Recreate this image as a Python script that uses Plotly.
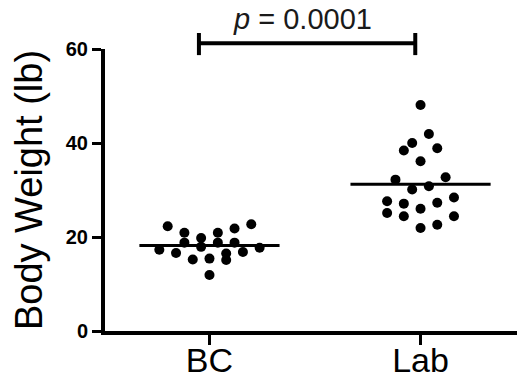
import plotly.graph_objects as go
import numpy as np

categories = ["BC", "Lab"]
bc_weights = [22.3, 17.3, 16.6, 20.9, 18.8, 15.2, 19.8, 17.9, 15.4, 11.9,
              20.9, 18.8, 16.5, 15.1, 21.8, 18.8, 16.8, 22.7, 17.7]
bc_cols = [-5, -6, -4, -3, -3, -2, -1, -1, 0, 0, 1, 1, 2, 2, 3, 3, 4, 5, 6]
lab_weights = [48.1, 41.9, 40.0, 38.4, 38.9, 36.1, 32.2, 32.7, 30.1, 30.8,
               27.6, 27.1, 27.3, 28.4, 26.0, 25.1, 24.4, 24.4, 22.6, 21.9]
lab_cols = [0, 1, -1, -2, 2, 0, -3, 3, -1, 1, -4, -2, 2, 4, 0, -4, -2, 4, 2, 0]
y_ticks = [0, 20, 40, 60]
p_label = "<i>p</i> = 0.0001"
bracket_x = [-0.05, 0.975]
bracket_y = 61.2
bracket_cap = [58.7, 63.4]

step = 0.0396
half = 0.332
XR = [-0.495, 1.457]
YR = [0, 60]

font = "Liberation Sans, Arial, Helvetica, sans-serif"

fig = go.Figure()
groups = [(bc_weights, bc_cols), (lab_weights, lab_cols)]
for i, (w, c) in enumerate(groups):
    xs = [i + k * step for k in c]
    fig.add_trace(go.Scatter(x=xs, y=w, mode="markers",
                             marker=dict(size=10, color="black"),
                             showlegend=False, cliponaxis=False))
    m = float(np.mean(w))
    fig.add_trace(go.Scatter(x=[i - half, i + half], y=[m, m], mode="lines",
                             line=dict(color="black", width=3),
                             showlegend=False))

def px(v):
    return (v - XR[0]) / (XR[1] - XR[0])

def py(v):
    return (v - YR[0]) / (YR[1] - YR[0])

shapes = [
    dict(type="line", xref="paper", yref="paper",
         x0=px(bracket_x[0]), x1=px(bracket_x[1]),
         y0=py(bracket_y), y1=py(bracket_y),
         line=dict(color="black", width=4)),
]
for bx in bracket_x:
    shapes.append(dict(type="line", xref="paper", yref="paper",
                       x0=px(bx), x1=px(bx),
                       y0=py(bracket_cap[0]), y1=py(bracket_cap[1]),
                       line=dict(color="black", width=4)))

fig.update_layout(
    width=517, height=379,
    margin=dict(l=105, r=0, t=49, b=48),
    paper_bgcolor="white", plot_bgcolor="white",
    font=dict(family=font, color="black"),
    shapes=shapes,
    annotations=[dict(
        xref="paper", yref="paper",
        x=px(sum(bracket_x) / 2) - 0.01, y=py(bracket_cap[1]) - 0.014,
        xanchor="center", yanchor="bottom", showarrow=False,
        text=p_label,
        font=dict(size=29, color="#1a1a1a", family=font))],
    xaxis=dict(range=XR, tickmode="array", tickvals=[0, 1], ticktext=categories,
               showline=True, linecolor="black", linewidth=4,
               ticks="outside", ticklen=10, tickwidth=3, tickcolor="black",
               tickfont=dict(size=34, family=font), automargin=False,
               ticklabelstandoff=-14,
               showgrid=False, zeroline=False, fixedrange=True),
    yaxis=dict(range=YR, tickmode="array", tickvals=y_ticks,
               showline=True, linecolor="black", linewidth=4,
               ticks="outside", ticklen=9, tickwidth=3, tickcolor="black",
               tickfont=dict(size=20, family=font, weight="bold"),
               title=dict(text="Body Weight (lb)", font=dict(size=38, family=font),
                          standoff=12),
               automargin=False,
               showgrid=False, zeroline=False, fixedrange=True),
)

fig.write_html("out.html", config={"displayModeBar": False},
               post_script="document.body.style.margin='0';document.body.style.padding='0';")
